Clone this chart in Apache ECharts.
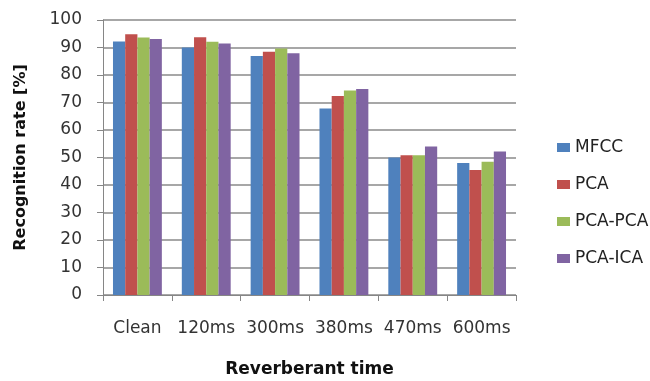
<!DOCTYPE html>
<html><head><meta charset="utf-8">
<script src="https://cdn.jsdelivr.net/npm/echarts@6/dist/echarts.min.js"></script>
<style>html,body{margin:0;padding:0;background:#fff}#c{width:650px;height:381px}</style>
</head><body><div id="c"></div>
<script>
const categories = ['Clean','120ms','300ms','380ms','470ms','600ms'];
const mfcc   = [92.2, 90.0, 86.9, 67.8, 50.0, 48.0];
const pca    = [94.8, 93.7, 88.5, 72.4, 50.8, 45.5];
const pcapca = [93.6, 92.1, 89.6, 74.4, 50.8, 48.5];
const pcaica = [93.1, 91.5, 87.9, 74.9, 54.0, 52.2];
const seriesNames = ['MFCC','PCA','PCA-PCA','PCA-ICA'];
const colors = ['#4F81BD','#C0504D','#9BBB59','#8064A2'];
const font = 'DejaVu Sans';
const chart = echarts.init(document.getElementById('c'));
const data = [mfcc, pca, pcapca, pcaica];
chart.setOption({
  animation:false,
  color: colors,
  grid:{left:103,right:134,top:20,bottom:86,outerBoundsMode:'none',containLabel:false},
  legend:{
    orient:'vertical', left:552, top:134, itemGap:20, itemWidth:13, itemHeight:9,
    icon:'rect', textStyle:{fontFamily:font,fontSize:17,color:'#222'},
    data: seriesNames
  },
  xAxis:{
    type:'category', data:categories,
    name:'Reverberant time', nameLocation:'middle', nameGap:66,
    nameTextStyle:{fontFamily:font,fontSize:17,fontWeight:'bold',color:'#111'},
    axisLine:{lineStyle:{color:'#868686',width:1}},
    axisTick:{show:true,length:6,lineStyle:{color:'#868686'}},
    axisLabel:{fontFamily:font,fontSize:17,color:'#333',margin:25,interval:0,hideOverlap:false}
  },
  yAxis:{
    type:'value', min:0, max:100, interval:10,
    name:'Recognition rate [%]', nameLocation:'middle', nameGap:74,
    nameTextStyle:{fontFamily:font,fontSize:16,fontWeight:'bold',color:'#111'},
    axisLine:{show:true,lineStyle:{color:'#868686'}},
    axisTick:{show:true,length:6,lineStyle:{color:'#868686'}},
    axisLabel:{fontFamily:font,fontSize:17,color:'#333',margin:21},
    splitLine:{lineStyle:{color:'#8a8a8a',width:1.5}}
  },
  series: data.map((d,i)=>({
    name:seriesNames[i], type:'bar', data:d,
    barGap:'0%', barCategoryGap:'29%'
  }))
});
</script></body></html>
